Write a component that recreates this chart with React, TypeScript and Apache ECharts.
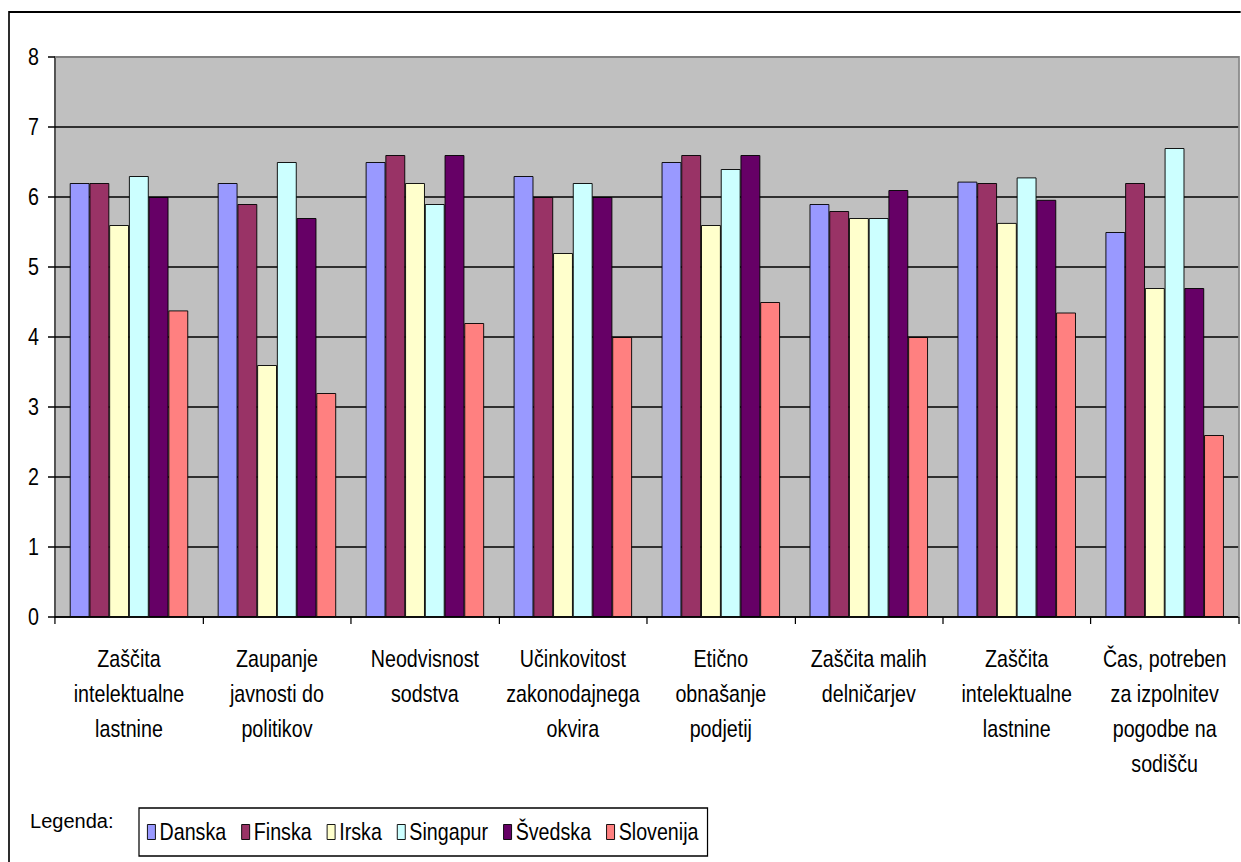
import React, { useEffect, useRef } from "react";
import * as echarts from "echarts";

const categories = [
  "Zaščita\nintelektualne\nlastnine",
  "Zaupanje\njavnosti do\npolitikov",
  "Neodvisnost\nsodstva",
  "Učinkovitost\nzakonodajnega\nokvira",
  "Etično\nobnašanje\npodjetij",
  "Zaščita malih\ndelničarjev",
  "Zaščita\nintelektualne\nlastnine",
  "Čas, potreben\nza izpolnitev\npogodbe na\nsodišču",
];

const danska = [6.2, 6.2, 6.5, 6.3, 6.5, 5.9, 6.22, 5.5];
const finska = [6.2, 5.9, 6.6, 6.0, 6.6, 5.8, 6.2, 6.2];
const irska = [5.6, 3.6, 6.2, 5.2, 5.6, 5.7, 5.63, 4.7];
const singapur = [6.3, 6.5, 5.9, 6.2, 6.4, 5.7, 6.28, 6.7];
const svedska = [6.0, 5.7, 6.6, 6.0, 6.6, 6.1, 5.96, 4.7];
const slovenija = [4.38, 3.2, 4.2, 4.0, 4.5, 4.0, 4.35, 2.6];

const yTicks = { min: 0, max: 8, interval: 1 };

const seriesDefs = [
  { name: "Danska", data: danska, color: "#9999FF" },
  { name: "Finska", data: finska, color: "#993366" },
  { name: "Irska", data: irska, color: "#FFFFCC" },
  { name: "Singapur", data: singapur, color: "#CCFFFF" },
  { name: "Švedska", data: svedska, color: "#660066" },
  { name: "Slovenija", data: slovenija, color: "#FF8080" },
];

// The chart is laid out on a wider canvas and squeezed horizontally,
// which gives the narrow Arial-style lettering of the original sheet.
const SX = 0.82;
const px = (v: number) => v / SX;

const W = 1241;
const H = 862;
const FONT = "'Liberation Sans', Arial, sans-serif";
const GRID = { left: px(55), top: 57, right: px(2), bottom: 245 };

export default function App() {
  const ref = useRef<HTMLDivElement>(null);

  useEffect(() => {
    document.body.style.margin = "0";
    const chart = echarts.init(ref.current!, null, { renderer: "svg" });
    const CW = px(W);
    chart.setOption({
      animation: false,
      backgroundColor: "#FFFFFF",
      grid: {
        ...GRID,
        show: true,
        backgroundColor: "#C0C0C0",
        borderWidth: 0,
      },
      legend: {
        left: px(139),
        top: 808,
        orient: "horizontal",
        itemWidth: px(8),
        itemHeight: 15,
        itemGap: px(15),
        padding: [12, px(9), 12, px(8)],
        borderColor: "#000000",
        borderWidth: 1.5,
        icon: "rect",
        itemStyle: { borderColor: "#000000", borderWidth: 1 },
        textStyle: { fontFamily: FONT, fontSize: 24, color: "#000000" },
        data: seriesDefs.map((s) => s.name),
      },
      xAxis: {
        type: "category",
        data: categories,
        boundaryGap: true,
        axisLine: { show: true, lineStyle: { color: "#000000", width: 1.5 } },
        axisTick: { show: true, length: 7, lineStyle: { color: "#000000", width: 1.5 } },
        axisLabel: {
          interval: 0,
          margin: 24,
          fontFamily: FONT,
          fontSize: 24,
          lineHeight: 35,
          color: "#000000",
          align: "center",
        },
        splitLine: { show: false },
      },
      yAxis: {
        type: "value",
        min: yTicks.min,
        max: yTicks.max,
        interval: yTicks.interval,
        axisLine: { show: true, lineStyle: { color: "#000000", width: 1.5 } },
        axisTick: { show: true, length: px(7), lineStyle: { color: "#000000", width: 1.5 } },
        axisLabel: { margin: px(16), fontFamily: FONT, fontSize: 24, color: "#000000" },
        splitLine: { show: true, lineStyle: { color: "#000000", width: 1.5 } },
      },
      series: seriesDefs.map((s) => ({
        name: s.name,
        type: "bar",
        data: s.data,
        barGap: "0%",
        barCategoryGap: "20%",
        itemStyle: { color: s.color, borderColor: "#000000", borderWidth: 1 },
      })),
      graphic: [
        {
          type: "rect",
          shape: { x: px(9), y: 12, width: CW + 40, height: H + 20 },
          style: { fill: "none", stroke: "#000000", lineWidth: 2 },
          silent: true,
          z: 100,
        },
        {
          type: "polyline",
          shape: {
            points: [
              [GRID.left, GRID.top],
              [CW - GRID.right, GRID.top],
              [CW - GRID.right, H - GRID.bottom],
            ],
          },
          style: { fill: "none", stroke: "#808080", lineWidth: 2 },
          silent: true,
          z: 100,
        },
        {
          type: "text",
          x: px(30),
          y: 821,
          scaleX: 1 / SX,
          style: {
            text: "Legenda:",
            fontFamily: FONT,
            fontSize: 20,
            fill: "#000000",
            verticalAlign: "middle",
          },
          silent: true,
          z: 100,
        },
      ],
    });
    return () => chart.dispose();
  }, []);

  return (
    <div style={{ position: "absolute", left: 0, top: 0, width: W, height: H, overflow: "hidden" }}>
      <div
        ref={ref}
        style={{
          width: px(W),
          height: H,
          transform: `scaleX(${SX})`,
          transformOrigin: "0 0",
        }}
      />
    </div>
  );
}
